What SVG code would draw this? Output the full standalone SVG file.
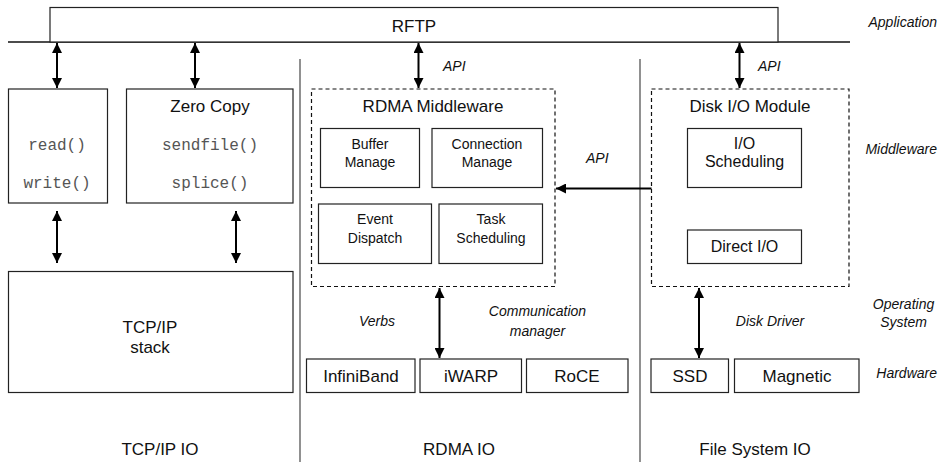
<svg xmlns="http://www.w3.org/2000/svg" width="942" height="462" viewBox="0 0 942 462">
<style>
.bx{fill:#fff;stroke:#222;stroke-width:1.2}
.dash{fill:none;stroke:#111;stroke-width:1.2;stroke-dasharray:4,3}
.t{font-family:"Liberation Sans",Arial,sans-serif;fill:#111;text-anchor:middle}
.t17{font-size:17px}
.t16{font-size:16px}
.t14{font-size:14px}
.it{font-family:"Liberation Sans",Arial,sans-serif;font-style:italic;font-size:14px;fill:#111}
.mono{font-family:"Liberation Mono","Courier New",monospace;font-size:16px;fill:#555;text-anchor:middle}
.ar{stroke:#000;stroke-width:2;fill:none}
.div{stroke:#555;stroke-width:1.3}
</style>
<defs>
<marker id="ah" viewBox="0 0 10 10" refX="10" refY="5" markerWidth="5.5" markerHeight="5" orient="auto-start-reverse" markerUnits="strokeWidth">
<path d="M0,0 L10,5 L0,10 z" fill="#000"/>
</marker>
</defs>
<rect width="942" height="462" fill="#fff"/>

<g id="dividers">
<line class="div" x1="300" y1="59" x2="300" y2="462"/>
<line class="div" x1="640" y1="59" x2="640" y2="462"/>
<line x1="8" y1="42" x2="850" y2="42" stroke="#111" stroke-width="1.3"/>
</g>

<g id="rftp">
<rect x="50" y="7.5" width="728" height="34.5" class="bx"/>
<text x="414" y="32" class="t t17">RFTP</text>
</g>

<g id="layers">
<text x="937" y="27" class="it" text-anchor="end">Application</text>
<text x="937" y="154" class="it" text-anchor="end">Middleware</text>
<text x="903.5" y="309" class="it" text-anchor="middle">Operating</text>
<text x="903.5" y="327" class="it" text-anchor="middle">System</text>
<text x="937" y="378" class="it" text-anchor="end">Hardware</text>
</g>

<g id="rw">
<rect x="8.5" y="89" width="99" height="114" class="bx"/>
<text x="57" y="150" class="mono">read()</text>
<text x="57" y="188" class="mono">write()</text>
</g>

<g id="zerocopy">
<rect x="126.5" y="89" width="166.5" height="114" class="bx"/>
<text x="210" y="112" class="t t17">Zero Copy</text>
<text x="210" y="150" class="mono">sendfile()</text>
<text x="210" y="188" class="mono">splice()</text>
</g>

<g id="tcpstack">
<rect x="8.5" y="271.5" width="284.5" height="121" class="bx"/>
<text x="150" y="333" class="t t17">TCP/IP</text>
<text x="150" y="353" class="t t17">stack</text>
</g>

<g id="rdma">
<rect x="311.5" y="89" width="243.5" height="197.5" class="dash"/>
<text x="433" y="112" class="t t17">RDMA Middleware</text>
</g>
<g id="buffer">
<rect x="320.5" y="128.5" width="99" height="59" class="bx"/>
<text x="370" y="149" class="t t14">Buffer</text>
<text x="370" y="167" class="t t14">Manage</text>
</g>
<g id="connection">
<rect x="432" y="128.5" width="110.5" height="59" class="bx"/>
<text x="487" y="149" class="t t14">Connection</text>
<text x="487" y="167" class="t t14">Manage</text>
</g>
<g id="event">
<rect x="318.5" y="204" width="113" height="59.5" class="bx"/>
<text x="375" y="224" class="t t14">Event</text>
<text x="375" y="243" class="t t14">Dispatch</text>
</g>
<g id="task">
<rect x="439" y="204" width="103.5" height="59.5" class="bx"/>
<text x="491" y="224" class="t t14">Task</text>
<text x="491" y="243" class="t t14">Scheduling</text>
</g>

<g id="disk">
<rect x="651.5" y="89" width="197.5" height="197.5" class="dash"/>
<text x="750" y="112" class="t t17">Disk I/O Module</text>
</g>
<g id="ioscheduling">
<rect x="687.5" y="128.5" width="114" height="59" class="bx"/>
<text x="744.5" y="149" class="t t16">I/O</text>
<text x="744.5" y="167" class="t t16">Scheduling</text>
</g>
<g id="directio">
<rect x="687.5" y="230" width="114" height="33.5" class="bx"/>
<text x="744.5" y="252" class="t t16">Direct I/O</text>
</g>

<g id="infiniband">
<rect x="306.5" y="359" width="108.5" height="33.5" class="bx"/>
<text x="361" y="382" class="t t17">InfiniBand</text>
</g>
<g id="iwarp">
<rect x="420" y="359" width="101.5" height="33.5" class="bx"/>
<text x="471" y="382" class="t t17">iWARP</text>
</g>
<g id="roce">
<rect x="526.5" y="359" width="101.5" height="33.5" class="bx"/>
<text x="577" y="382" class="t t17">RoCE</text>
</g>
<g id="ssd">
<rect x="651" y="359" width="77.5" height="33.5" class="bx"/>
<text x="690" y="382" class="t t17">SSD</text>
</g>
<g id="magnetic">
<rect x="734.5" y="359" width="124.5" height="33.5" class="bx"/>
<text x="797" y="382" class="t t17">Magnetic</text>
</g>

<g id="connectors">
<line class="ar" x1="57" y1="43" x2="57" y2="88" marker-start="url(#ah)" marker-end="url(#ah)"/>
<line class="ar" x1="195" y1="43" x2="195" y2="88" marker-start="url(#ah)" marker-end="url(#ah)"/>
<line class="ar" x1="418.5" y1="43" x2="418.5" y2="88" marker-start="url(#ah)" marker-end="url(#ah)"/>
<line class="ar" x1="739.5" y1="43" x2="739.5" y2="88" marker-start="url(#ah)" marker-end="url(#ah)"/>
<line class="ar" x1="57" y1="211" x2="57" y2="263" marker-start="url(#ah)" marker-end="url(#ah)"/>
<line class="ar" x1="236" y1="211" x2="236" y2="263" marker-start="url(#ah)" marker-end="url(#ah)"/>
<line class="ar" x1="651.5" y1="188.5" x2="556" y2="188.5" marker-end="url(#ah)"/>
<line class="ar" x1="439.5" y1="288" x2="439.5" y2="358" marker-start="url(#ah)" marker-end="url(#ah)"/>
<line class="ar" x1="699" y1="288" x2="699" y2="358" marker-start="url(#ah)" marker-end="url(#ah)"/>
<text x="443" y="71" class="it">API</text>
<text x="758" y="71" class="it">API</text>
<text x="586" y="163" class="it">API</text>
<text x="377" y="326" class="it" text-anchor="middle">Verbs</text>
<text x="537.5" y="316" class="it" text-anchor="middle">Communication</text>
<text x="537.5" y="336" class="it" text-anchor="middle">manager</text>
<text x="770" y="326" class="it" text-anchor="middle">Disk Driver</text>
</g>

<g id="columns">
<text x="160" y="455" class="t t17">TCP/IP IO</text>
<text x="459" y="455" class="t t17">RDMA IO</text>
<text x="755" y="455" class="t t17">File System IO</text>
</g>
</svg>
